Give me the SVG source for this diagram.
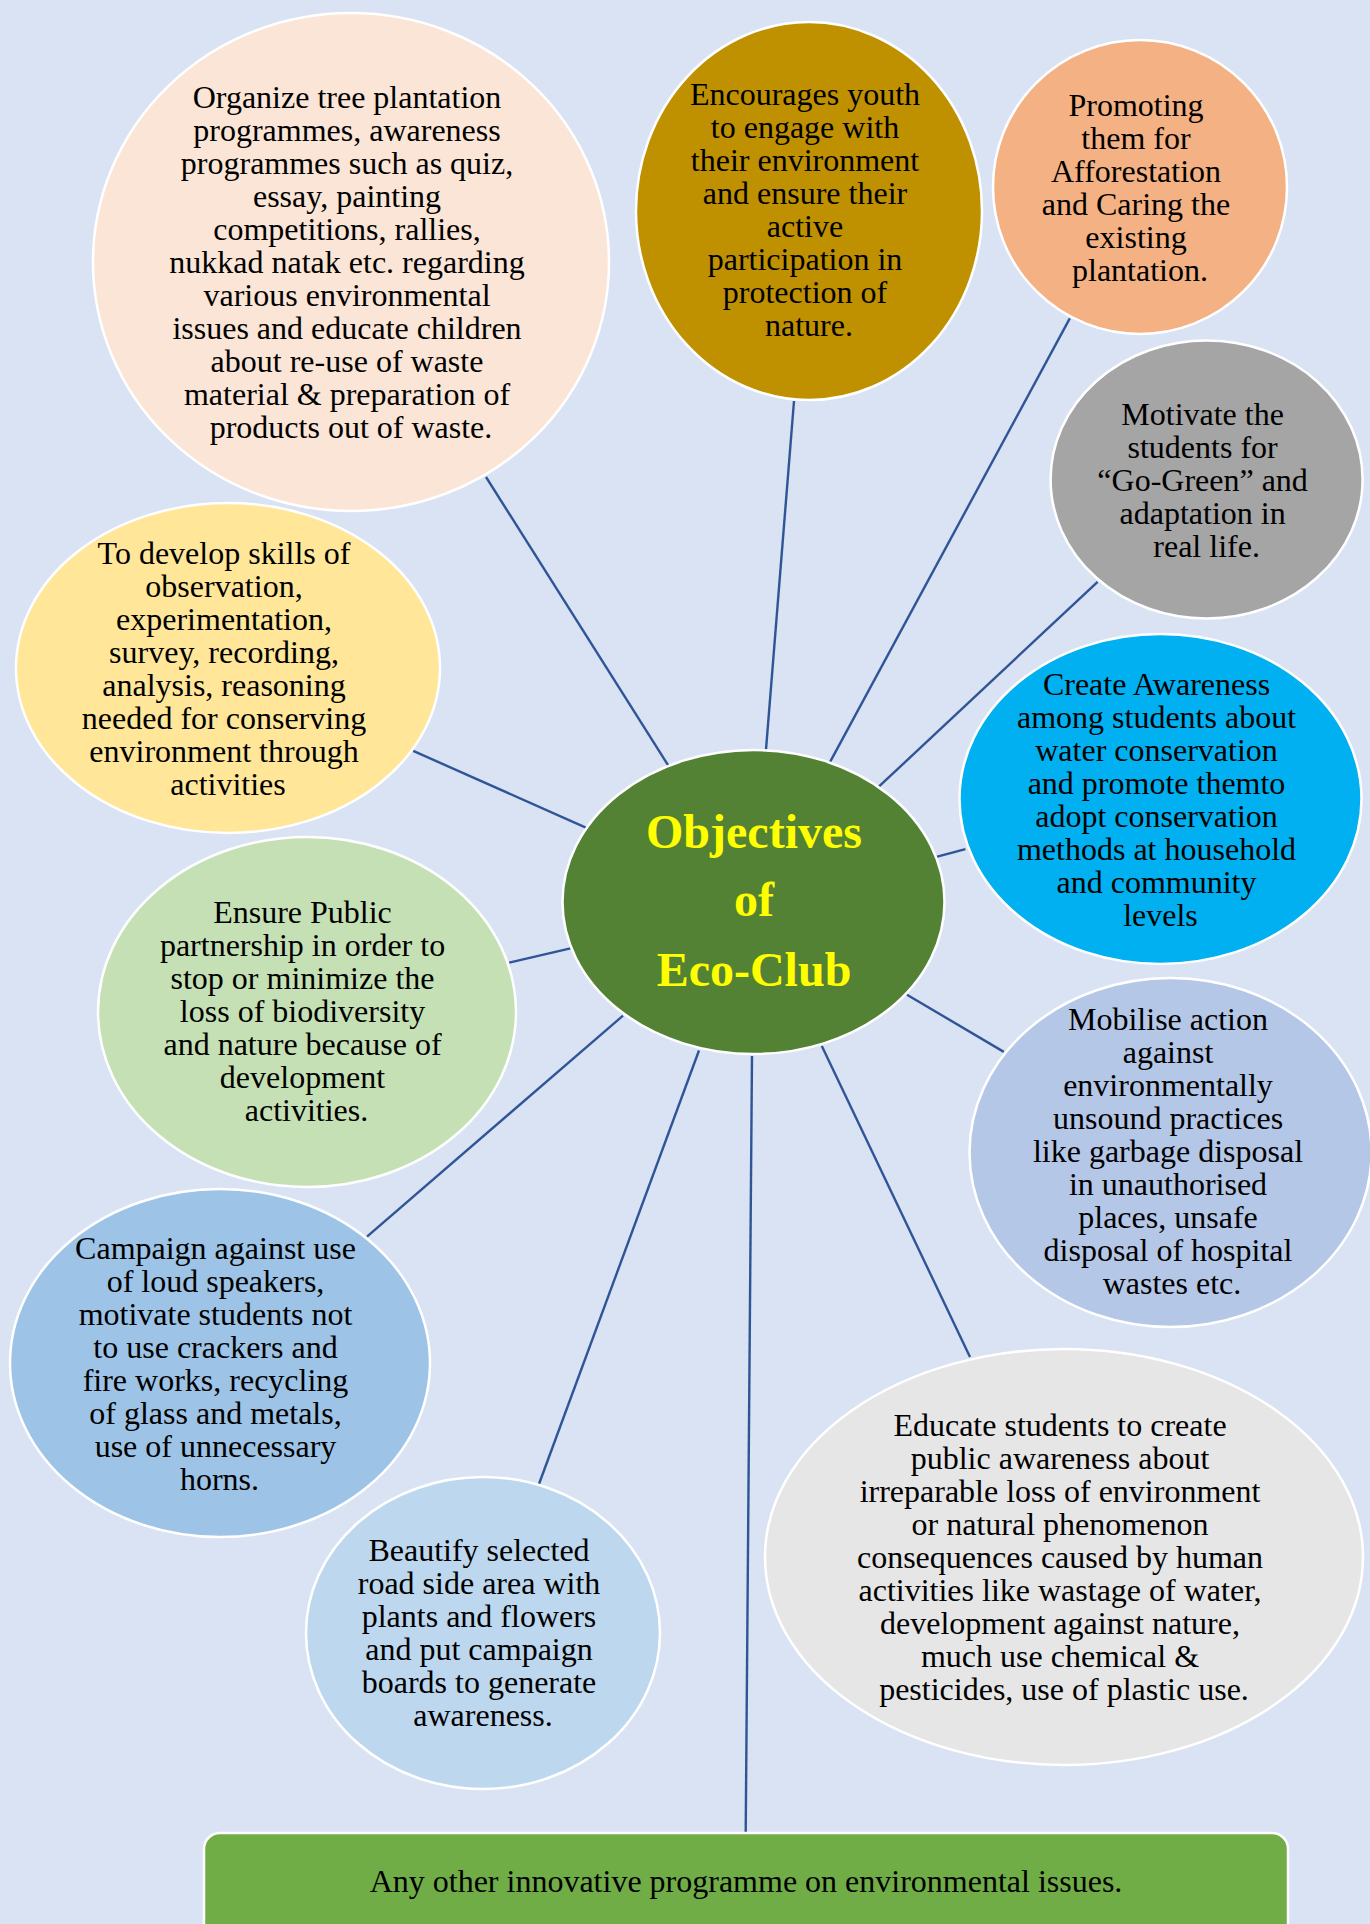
<svg xmlns="http://www.w3.org/2000/svg" width="1370" height="1924" viewBox="0 0 1370 1924">
<style>
.bg{fill:#DAE3F3}
.node{stroke:#FFFFFF;stroke-width:2.5}
.conn{stroke:#2F5597;stroke-width:2.4;fill:none}
.t{font-family:"Liberation Serif","Times New Roman",serif;font-size:32px;fill:#000000;text-anchor:middle}
.title{font-family:"Liberation Serif","Times New Roman",serif;font-size:48px;font-weight:bold;fill:#FFFF00;text-anchor:middle}
</style>
<rect class="bg" x="0" y="0" width="1370" height="1924"/>
<g id="connectors">
<line class="conn" x1="486" y1="477" x2="668.6" y2="766"/>
<line class="conn" x1="794" y1="401" x2="766" y2="749.6"/>
<line class="conn" x1="1069.8" y1="318.4" x2="829.7" y2="762.6"/>
<line class="conn" x1="1097.6" y1="581.8" x2="878.8" y2="786.7"/>
<line class="conn" x1="965.4" y1="849.2" x2="936.4" y2="856.8"/>
<line class="conn" x1="1003.8" y1="1051.9" x2="907" y2="994.7"/>
<line class="conn" x1="970" y1="1357" x2="821.8" y2="1046"/>
<line class="conn" x1="745.7" y1="1832" x2="752" y2="1056"/>
<line class="conn" x1="539" y1="1484" x2="699" y2="1050.5"/>
<line class="conn" x1="367" y1="1236.6" x2="623" y2="1015.7"/>
<line class="conn" x1="509.2" y1="962.6" x2="570.4" y2="948.3"/>
<line class="conn" x1="413.2" y1="750.9" x2="586.4" y2="827.8"/>
</g>
<g id="node-organize">
<ellipse class="node" cx="351" cy="262" rx="258" ry="249" fill="#FBE5D6"/>
<text class="t" x="351" y="107.5">
<tspan x="351" dy="0">Organize tree plantation</tspan>
<tspan x="351" dy="33">programmes, awareness</tspan>
<tspan x="351" dy="33">programmes such as quiz,</tspan>
<tspan x="351" dy="33">essay, painting</tspan>
<tspan x="351" dy="33">competitions, rallies,</tspan>
<tspan x="351" dy="33">nukkad natak etc. regarding</tspan>
<tspan x="351" dy="33">various environmental</tspan>
<tspan x="351" dy="33">issues and educate children</tspan>
<tspan x="351" dy="33">about re-use of waste</tspan>
<tspan x="351" dy="33">material &amp; preparation of</tspan>
<tspan x="351" dy="33">products out of waste.</tspan>
</text>
</g>
<g id="node-encourages">
<ellipse class="node" cx="809" cy="211" rx="173" ry="189" fill="#BF9000"/>
<text class="t" x="809" y="105.3">
<tspan x="809" dy="0">Encourages youth</tspan>
<tspan x="809" dy="33">to engage with</tspan>
<tspan x="809" dy="33">their environment</tspan>
<tspan x="809" dy="33">and ensure their</tspan>
<tspan x="809" dy="33">active</tspan>
<tspan x="809" dy="33">participation in</tspan>
<tspan x="809" dy="33">protection of</tspan>
<tspan x="809" dy="33">nature.</tspan>
</text>
</g>
<g id="node-promoting">
<ellipse class="node" cx="1140" cy="187" rx="147" ry="147" fill="#F4B183"/>
<text class="t" x="1140" y="116.3">
<tspan x="1140" dy="0">Promoting</tspan>
<tspan x="1140" dy="33">them for</tspan>
<tspan x="1140" dy="33">Afforestation</tspan>
<tspan x="1140" dy="33">and Caring the</tspan>
<tspan x="1140" dy="33">existing</tspan>
<tspan x="1140" dy="33">plantation.</tspan>
</text>
</g>
<g id="node-motivate">
<ellipse class="node" cx="1206.6" cy="479.5" rx="156" ry="139" fill="#A5A5A5"/>
<text class="t" x="1206.6" y="424.5">
<tspan x="1206.6" dy="0">Motivate the</tspan>
<tspan x="1206.6" dy="33">students for</tspan>
<tspan x="1206.6" dy="33">“Go-Green” and</tspan>
<tspan x="1206.6" dy="33">adaptation in</tspan>
<tspan x="1206.6" dy="33">real life.</tspan>
</text>
</g>
<g id="node-awareness">
<ellipse class="node" cx="1160.5" cy="799" rx="201" ry="165" fill="#00B0F0"/>
<text class="t" x="1160.5" y="694.5">
<tspan x="1160.5" dy="0">Create Awareness</tspan>
<tspan x="1160.5" dy="33">among students about</tspan>
<tspan x="1160.5" dy="33">water conservation</tspan>
<tspan x="1160.5" dy="33">and promote themto</tspan>
<tspan x="1160.5" dy="33">adopt conservation</tspan>
<tspan x="1160.5" dy="33">methods at household</tspan>
<tspan x="1160.5" dy="33">and community</tspan>
<tspan x="1160.5" dy="33">levels</tspan>
</text>
</g>
<g id="node-mobilise">
<ellipse class="node" cx="1170.5" cy="1152.5" rx="201" ry="174.5" fill="#B4C7E7"/>
<text class="t" x="1172" y="1030.4">
<tspan x="1172" dy="0">Mobilise action</tspan>
<tspan x="1172" dy="33">against</tspan>
<tspan x="1172" dy="33">environmentally</tspan>
<tspan x="1172" dy="33">unsound practices</tspan>
<tspan x="1172" dy="33">like garbage disposal</tspan>
<tspan x="1172" dy="33">in unauthorised</tspan>
<tspan x="1172" dy="33">places, unsafe</tspan>
<tspan x="1172" dy="33">disposal of hospital</tspan>
<tspan x="1172" dy="33">wastes etc.</tspan>
</text>
</g>
<g id="node-educate">
<ellipse class="node" cx="1064" cy="1557" rx="299" ry="208" fill="#E7E6E6"/>
<text class="t" x="1064" y="1435.8">
<tspan x="1064" dy="0">Educate students to create</tspan>
<tspan x="1064" dy="33">public awareness about</tspan>
<tspan x="1064" dy="33">irreparable loss of environment</tspan>
<tspan x="1064" dy="33">or natural phenomenon</tspan>
<tspan x="1064" dy="33">consequences caused by human</tspan>
<tspan x="1064" dy="33">activities like wastage of water,</tspan>
<tspan x="1064" dy="33">development against nature,</tspan>
<tspan x="1064" dy="33">much use chemical &amp;</tspan>
<tspan x="1064" dy="33">pesticides, use of plastic use.</tspan>
</text>
</g>
<g id="node-beautify">
<ellipse class="node" cx="483" cy="1633" rx="177" ry="156" fill="#BDD7EE"/>
<text class="t" x="483" y="1561">
<tspan x="483" dy="0">Beautify selected</tspan>
<tspan x="483" dy="33">road side area with</tspan>
<tspan x="483" dy="33">plants and flowers</tspan>
<tspan x="483" dy="33">and put campaign</tspan>
<tspan x="483" dy="33">boards to generate</tspan>
<tspan x="483" dy="33">awareness.</tspan>
</text>
</g>
<g id="node-campaign">
<ellipse class="node" cx="220" cy="1363" rx="210" ry="174" fill="#9DC3E6"/>
<text class="t" x="219.5" y="1258.6">
<tspan x="219.5" dy="0">Campaign against use</tspan>
<tspan x="219.5" dy="33">of loud speakers,</tspan>
<tspan x="219.5" dy="33">motivate students not</tspan>
<tspan x="219.5" dy="33">to use crackers and</tspan>
<tspan x="219.5" dy="33">fire works, recycling</tspan>
<tspan x="219.5" dy="33">of glass and metals,</tspan>
<tspan x="219.5" dy="33">use of unnecessary</tspan>
<tspan x="219.5" dy="33">horns.</tspan>
</text>
</g>
<g id="node-ensure">
<ellipse class="node" cx="307" cy="1012" rx="209" ry="175" fill="#C5E0B4"/>
<text class="t" x="306.5" y="923">
<tspan x="306.5" dy="0">Ensure Public</tspan>
<tspan x="306.5" dy="33">partnership in order to</tspan>
<tspan x="306.5" dy="33">stop or minimize the</tspan>
<tspan x="306.5" dy="33">loss of biodiversity</tspan>
<tspan x="306.5" dy="33">and nature because of</tspan>
<tspan x="306.5" dy="33">development</tspan>
<tspan x="306.5" dy="33">activities.</tspan>
</text>
</g>
<g id="node-develop">
<ellipse class="node" cx="228" cy="668" rx="212" ry="165" fill="#FFE699"/>
<text class="t" x="228" y="563.6">
<tspan x="228" dy="0">To develop skills of</tspan>
<tspan x="228" dy="33">observation,</tspan>
<tspan x="228" dy="33">experimentation,</tspan>
<tspan x="228" dy="33">survey, recording,</tspan>
<tspan x="228" dy="33">analysis, reasoning</tspan>
<tspan x="228" dy="33">needed for conserving</tspan>
<tspan x="228" dy="33">environment through</tspan>
<tspan x="228" dy="33">activities</tspan>
</text>
</g>
<g id="node-center">
<ellipse class="node" cx="753.5" cy="902" rx="191" ry="152" fill="#548235"/>
<text class="title" x="754" y="848">Objectives</text>
<text class="title" x="754" y="916">of</text>
<text class="title" x="754" y="986">Eco-Club</text>
</g>
<g id="node-other">
<rect class="node" x="204" y="1833" width="1084" height="110" rx="16" ry="16" fill="#70AD47"/>
<text class="t" x="746" y="1891.7">Any other innovative programme on environmental issues.</text>
</g>
</svg>
